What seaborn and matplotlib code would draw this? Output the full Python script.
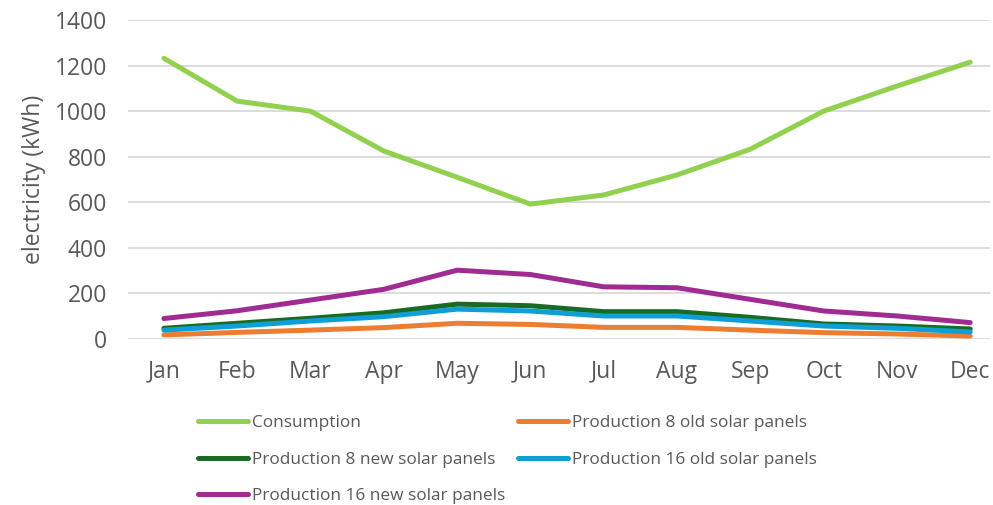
import matplotlib
matplotlib.use("Agg")
import matplotlib.pyplot as plt
import seaborn as sns
import pandas as pd
from matplotlib import font_manager as fm
from matplotlib.lines import Line2D

months = ["Jan", "Feb", "Mar", "Apr", "May", "Jun", "Jul", "Aug", "Sep", "Oct", "Nov", "Dec"]
consumption = [1232, 1044, 1000, 825, 710, 592, 632, 720, 833, 1000, 1110, 1215]
prod_8_old = [18, 29, 39, 50, 69, 64, 51, 51, 39, 28, 22, 13]
prod_8_new = [47, 69, 91, 115, 153, 146, 120, 120, 95, 66, 57, 44]
prod_16_old = [39, 57, 79, 98, 131, 123, 101, 101, 79, 57, 47, 31]
prod_16_new = [90, 124, 171, 218, 302, 283, 229, 225, 174, 123, 101, 72]

series_names = ["Consumption", "Production 8 old solar panels", "Production 8 new solar panels",
                "Production 16 old solar panels", "Production 16 new solar panels"]
series_values = [consumption, prod_8_old, prod_8_new, prod_16_old, prod_16_new]
colors = ["#92D050", "#ED7D31", "#196B24", "#0F9ED5", "#A02B93"]
yticks = [0, 200, 400, 600, 800, 1000, 1200, 1400]

rows = []
for name, vals in zip(series_names, series_values):
    for m, v in zip(months, vals):
        rows.append({"month": m, "value": v, "series": name})
df = pd.DataFrame(rows)
df["x"] = df["month"].map({m: i for i, m in enumerate(months)})

sns.set_theme(style="white")
installed = {f.name for f in fm.fontManager.ttflist}
main_font = "Open Sans" if "Open Sans" in installed else "DejaVu Sans"
plt.rcParams["font.family"] = [main_font, "DejaVu Sans"]

fig = plt.figure(figsize=(9.93, 5.05), dpi=100)
ax = fig.add_axes([128 / 993, 1 - 339 / 505, (990 - 128) / 993, (339 - 20) / 505])

sns.lineplot(data=df, x="x", y="value", hue="series", hue_order=series_names,
             palette=colors, linewidth=3.6, sort=False, ax=ax, legend=False,
             solid_capstyle="round")

ax.set_xlim(-0.49, 11.27)
ax.set_ylim(0, 1400)
ax.set_yticks(yticks)
ax.set_yticklabels([str(t) for t in yticks])
ax.set_xticks(range(len(months)))
ax.set_xticklabels(months)
ax.grid(axis="y", color="#D9D9D9", linewidth=1.3)
ax.set_axisbelow(True)
for s in ax.spines.values():
    s.set_visible(False)
ax.tick_params(axis="both", length=0, labelsize=16.5, colors="#595959")
ax.tick_params(axis="y", pad=15)
ax.tick_params(axis="x", pad=15)
ax.set_xlabel("")
ax.set_ylabel("electricity (kWh)", fontsize=16.5, color="#595959", labelpad=6)

handles = {n: Line2D([], [], color=c, linewidth=3.6, solid_capstyle="round")
           for n, c in zip(series_names, colors)}
order = [series_names[0], series_names[2], series_names[4], series_names[1], series_names[3]]
leg = fig.legend([handles[n] for n in order], order, ncol=2, loc="upper left",
                 bbox_to_anchor=(198 / 993, 1 - 415 / 505), frameon=False,
                 prop={"size": 12.4}, handlelength=2.9,
                 handletextpad=0.25, columnspacing=0.7, labelspacing=1.2,
                 borderaxespad=0, borderpad=0)
for t in leg.get_texts():
    t.set_color("#595959")

fig.savefig("out.png", dpi=100)
